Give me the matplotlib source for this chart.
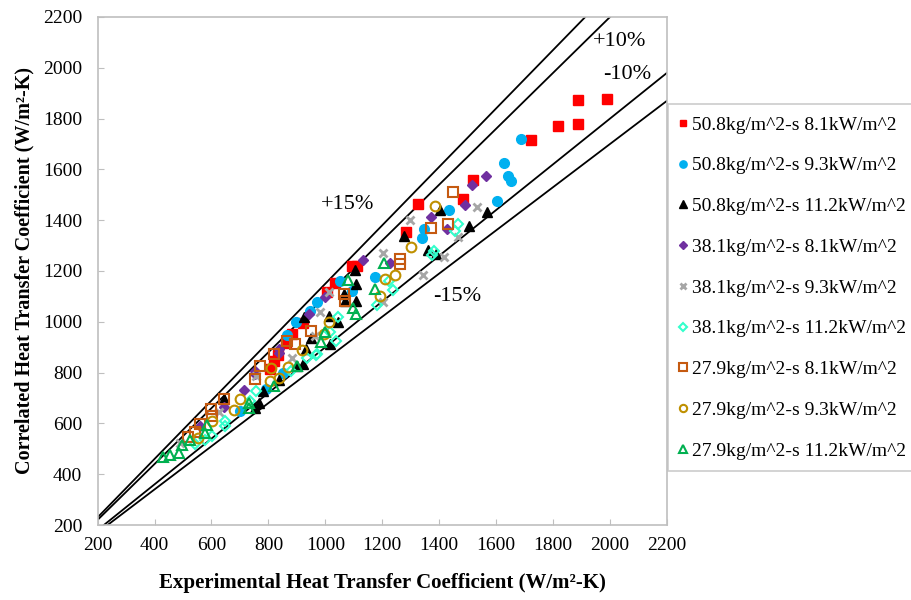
import matplotlib
matplotlib.use("Agg")
import matplotlib.pyplot as plt
import numpy as np

plt.rcParams['font.family'] = ['Liberation Serif', 'DejaVu Serif']

labels = ["50.8kg/m^2-s 8.1kW/m^2", "50.8kg/m^2-s 9.3kW/m^2", "50.8kg/m^2-s 11.2kW/m^2",
          "38.1kg/m^2-s 8.1kW/m^2", "38.1kg/m^2-s 9.3kW/m^2", "38.1kg/m^2-s 11.2kW/m^2",
          "27.9kg/m^2-s 8.1kW/m^2", "27.9kg/m^2-s 9.3kW/m^2", "27.9kg/m^2-s 11.2kW/m^2"]

red_x = [1988, 1889, 1886, 1818, 1722, 1517, 1484, 1325, 1283, 1110, 1093, 1035, 1005, 920, 883, 863, 835, 819, 807]
red_y = [1877, 1872, 1778, 1771, 1715, 1557, 1485, 1464, 1352, 1220, 1220, 1152, 1118, 997, 951, 918, 869, 845, 813]

blue_x = [1688, 1627, 1641, 1651, 1604, 1435, 1346, 1339, 1173, 1093, 1050, 972, 945, 897, 865, 850, 792, 702]
blue_y = [1719, 1624, 1575, 1555, 1474, 1442, 1367, 1331, 1178, 1120, 1160, 1078, 1043, 1000, 947, 799, 737, 647]

blk_x = [1569, 1503, 1404, 1387, 1360, 1275, 1109, 1105, 1109, 1043, 1012, 1018, 951, 931, 921, 924, 901, 836, 780, 766, 754, 1070, 1064, 643]
blk_y = [1433, 1378, 1442, 1265, 1281, 1339, 1149, 1202, 1083, 1001, 1024, 912, 938, 894, 832, 1017, 826, 769, 729, 680, 661, 1080, 1110, 698]

pur_x = [1565, 1514, 1492, 1429, 1371, 1228, 1132, 1000, 944, 839, 836, 754, 752, 713, 643, 559]
pur_y = [1575, 1540, 1459, 1364, 1411, 1232, 1242, 1099, 1030, 892, 878, 806, 795, 731, 663, 588]

gry_x = [1532, 1465, 1418, 1343, 1298, 1201, 1202, 1014, 982, 965, 883, 758, 626, 491]
gry_y = [1451, 1334, 1257, 1185, 1400, 1271, 1078, 1119, 1037, 945, 859, 786, 644, 522]

cya_x = [1466, 1454, 1380, 1374, 1237, 1222, 1181, 1043, 1039, 1018, 971, 935, 968, 878, 758, 737, 646, 646, 603, 579, 541]
cya_y = [1386, 1356, 1278, 1261, 1125, 1162, 1066, 1017, 925, 958, 872, 859, 869, 806, 727, 690, 611, 588, 551, 535, 518]

org_x = [1447, 1430, 1372, 1263, 1263, 1064, 1070, 951, 892, 865, 821, 772, 752, 643, 600, 603, 561, 541, 517]
org_y = [1510, 1384, 1370, 1248, 1226, 1110, 1080, 964, 912, 925, 872, 826, 773, 698, 658, 628, 599, 568, 548]

gld_x = [1384, 1300, 1246, 1211, 1193, 1012, 997, 918, 869, 836, 809, 805, 699, 678, 603, 553]
gld_y = [1454, 1293, 1186, 1169, 1100, 1001, 951, 888, 822, 779, 819, 766, 698, 654, 608, 543]

grn_x = [1205, 1175, 1097, 1109, 1078, 1000, 986, 901, 819, 733, 731, 585, 579, 526, 497, 485, 454, 430]
grn_y = [1232, 1129, 1053, 1030, 1166, 958, 922, 826, 746, 661, 680, 595, 562, 535, 513, 482, 476, 469]

band_factors = [1.15, 1.10, 0.90, 0.85]
band_labels = ["+15%", "+10%", "-10%", "-15%"]
band_label_pos = [(1079, 1460), (2035, 2102), (2060, 1972), (1463, 1098)]

fig = plt.figure(figsize=(9.12, 6.0), dpi=100)
ax = fig.add_axes([0.107, 0.125, 0.6243, 0.8467])

xline = np.array([200, 2200])
for f in band_factors:
    ax.plot(xline, f * xline, color='black', lw=1.3, zorder=1)

series = [
    (red_x, red_y, dict(marker='s', color='#FF0000', ms=6.5, mfc='#FF0000', mec='#FF0000')),
    (blue_x, blue_y, dict(marker='o', color='#00B0F0', ms=7, mfc='#00B0F0', mec='#00B0F0')),
    (blk_x, blk_y, dict(marker='^', color='black', ms=7, mfc='black', mec='black')),
    (pur_x, pur_y, dict(marker='D', color='#7030A0', ms=5.5, mfc='#7030A0', mec='#7030A0')),
    (gry_x, gry_y, dict(marker='x', color='#A6A6A6', ms=6, mew=2)),
    (cya_x, cya_y, dict(marker='D', color='#33FFCC', ms=5.5, mfc='none', mec='#33FFCC', mew=1.5)),
    (org_x, org_y, dict(marker='s', color='#C55A11', ms=7, mfc='none', mec='#C55A11', mew=1.5)),
    (gld_x, gld_y, dict(marker='o', color='#BF9000', ms=7, mfc='none', mec='#BF9000', mew=1.5)),
    (grn_x, grn_y, dict(marker='^', color='#00B050', ms=7.5, mfc='none', mec='#00B050', mew=1.5)),
]
handles = []
for (xs, ys, kw), lab in zip(series, labels):
    h, = ax.plot(xs, ys, ls='none', label=lab, zorder=3, **kw)
    handles.append(h)

for txt, (tx, ty) in zip(band_labels, band_label_pos):
    ax.text(tx, ty, txt, fontsize=16, ha='center', va='center')

ax.set_xlim(200, 2200)
ax.set_ylim(200, 2200)
ticks = np.arange(200, 2201, 200)
ax.set_xticks(ticks)
ax.set_yticks(ticks)
ax.tick_params(direction='in', length=4, color='#BFBFBF', labelsize=14)
ax.tick_params(axis='x', pad=9)
ax.tick_params(axis='y', pad=11)
for s in ax.spines.values():
    s.set_color('#BFBFBF')
    s.set_linewidth(1.2)

ax.set_xlabel("Experimental Heat Transfer Coefficient (W/m²-K)", fontsize=15, fontweight='bold', labelpad=13)
ax.set_ylabel("Correlated Heat Transfer Coefficient (W/m²-K)", fontsize=14.5, fontweight='bold', labelpad=6)

leg = fig.legend(handles=handles, loc='upper left', bbox_to_anchor=(0.733, 0.826),
                 fontsize=14, frameon=True, fancybox=False, edgecolor='#BFBFBF',
                 handlelength=0.3, handletextpad=0.3, labelspacing=1.19, borderpad=0.6,
                 markerscale=0.75, borderaxespad=0)
leg.get_frame().set_linewidth(1.2)

fig.savefig("out.png", dpi=100)
